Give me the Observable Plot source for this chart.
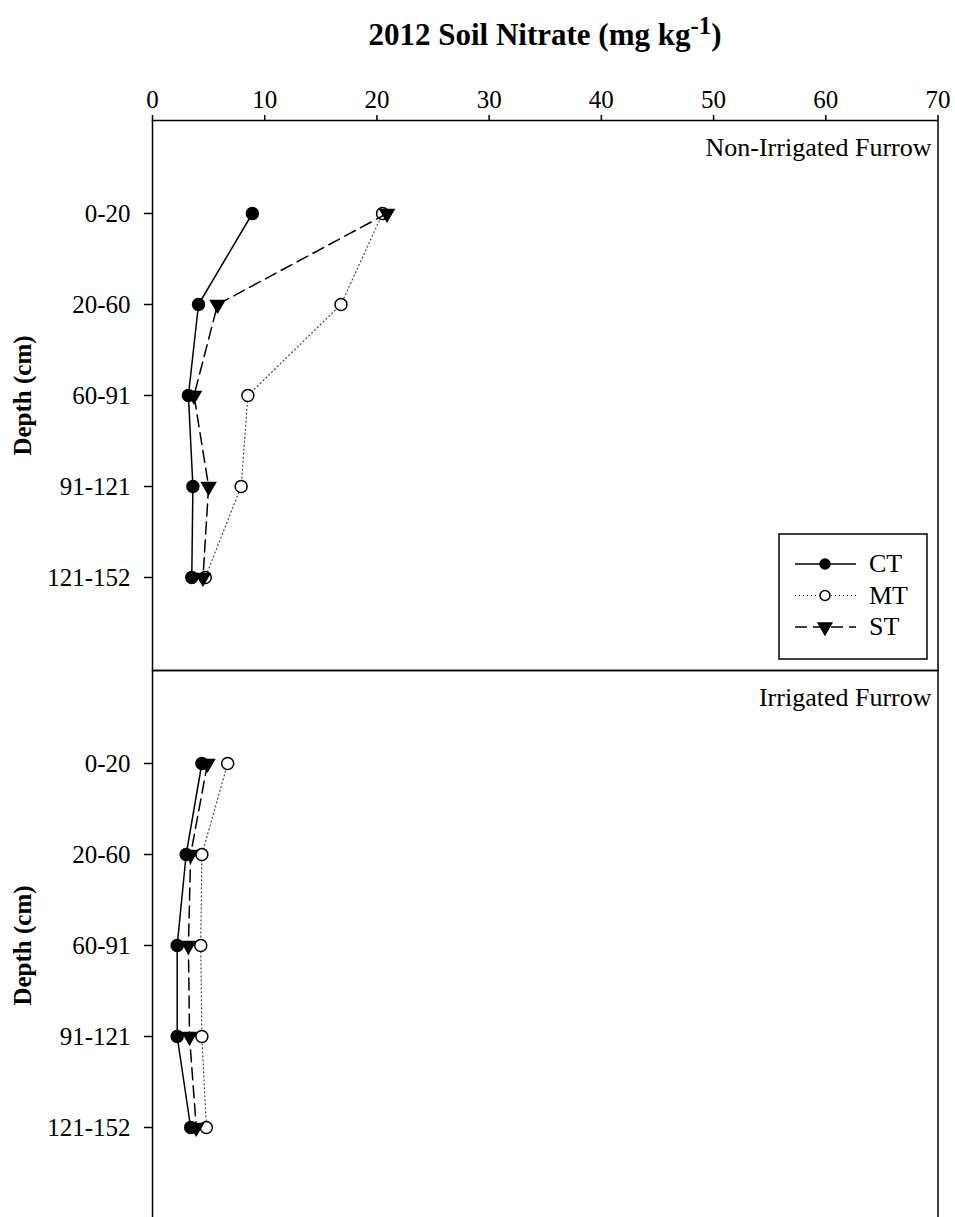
<!DOCTYPE html>
<html>
<head>
<meta charset="utf-8">
<script src="https://cdn.jsdelivr.net/npm/d3@7"></script>
<script src="https://cdn.jsdelivr.net/npm/@observablehq/plot@0.6"></script>
<style>
  html, body { margin: 0; padding: 0; background: white; overflow: hidden; }
  #title { position: relative; height: 60px; width: 955px; }
  #title span {
    position: absolute; left: 152px; width: 786px; top: 19px; text-align: center;
    font-family: "Liberation Serif", "Times New Roman", serif; font-weight: bold;
    font-size: 31px; line-height: 31px; white-space: nowrap;
  }
  #title sup { font-size: 0.8em; vertical-align: 0.45em; line-height: 0; }
</style>
</head>
<body>
<div id="title"><span>2012 Soil Nitrate (mg kg<sup>-1</sup>)</span></div>
<div id="chart"></div>
<script>
const depths = ["0-20", "20-60", "60-91", "91-121", "121-152"];
const panels = ["Non-Irrigated Furrow", "Irrigated Furrow"];
const series = ["CT", "MT", "ST"];
const xTicks = [0, 10, 20, 30, 40, 50, 60, 70];

// Non-irrigated furrow
const CT_nonIrr = [8.9, 4.1, 3.2, 3.6, 3.5];
const MT_nonIrr = [20.5, 16.8, 8.5, 7.9, 4.7];
const ST_nonIrr = [20.9, 5.8, 3.7, 5.0, 4.5];
// Irrigated furrow
const CT_irr = [4.4, 3.0, 2.2, 2.2, 3.4];
const MT_irr = [6.7, 4.4, 4.3, 4.4, 4.8];
const ST_irr = [4.9, 3.4, 3.2, 3.3, 3.9];

const valuesBy = {
  "Non-Irrigated Furrow": {CT: CT_nonIrr, MT: MT_nonIrr, ST: ST_nonIrr},
  "Irrigated Furrow": {CT: CT_irr, MT: MT_irr, ST: ST_irr}
};
const data = [];
for (const p of panels) for (const s of series) depths.forEach((d, i) => {
  data.push({panel: p, series: s, depth: d, value: valuesBy[p][s][i]});
});
const of = (s) => data.filter(d => d.series === s);

const styles = {
  CT: {line: {stroke: "black", strokeWidth: 1.5}, dot: {symbol: "circle", r: 6, fill: "black", stroke: "black"}},
  MT: {line: {stroke: "#444", strokeWidth: 1.2, strokeDasharray: "1,3"}, dot: {symbol: "circle", r: 6, fill: "white", stroke: "black", strokeWidth: 1.5}},
  ST: {line: {stroke: "black", strokeWidth: 1.5, strokeDasharray: "12,6"}, dot: {symbol: "triangle", r: 5.2, fill: "black", stroke: "black", rotate: 180}}
};

const marks = [];
for (const s of series) {
  marks.push(Plot.line(of(s), {x: "value", y: "depth", fy: "panel", ...styles[s].line}));
  marks.push(Plot.dot(of(s), {x: "value", y: "depth", fy: "panel", ...styles[s].dot}));
}

const plot = Plot.plot({
  width: 955,
  height: 1160,
  marginTop: 60,
  marginBottom: 0,
  marginLeft: 152,
  marginRight: 17.5,
  style: {fontFamily: '"Liberation Serif", "Times New Roman", serif', fontSize: "25px", color: "black", background: "white"},
  x: {domain: [0, 70]},
  y: {type: "point", domain: depths, padding: 1},
  fy: {domain: panels, padding: 0, axis: null},
  marks: [
    Plot.axisX({anchor: "top", ticks: xTicks, tickSize: 6, tickPadding: 7, label: null, strokeWidth: 1.5, fontSize: 25}),
    Plot.axisY({anchor: "left", tickSize: 8, tickPadding: 14, label: null, strokeWidth: 1.5, fontSize: 25}),
    Plot.text(panels, {fy: d => d, text: d => d, frameAnchor: "top-right", textAnchor: "end", lineAnchor: "middle", dx: -6.5, dy: 27, fontSize: 26}),
    Plot.text(panels, {fy: d => d, text: () => "Depth (cm)", frameAnchor: "left", rotate: -90, textAnchor: "middle", lineAnchor: "middle", dx: -130, fontSize: 25, fontWeight: "bold"}),
    ...marks,
    Plot.frame({stroke: "black", strokeWidth: 1.5})
  ]
});

document.getElementById("chart").appendChild(plot);

// Legend inside the top panel (lower-right corner)
const xr = plot.scale("x").range;
const right = xr[1];
const svg = d3.select(plot);
const fyScale = plot.scale("fy");
const topBottom = fyScale.apply(panels[0]) + fyScale.bandwidth;
const g = svg.append("g")
  .attr("font-family", '"Liberation Serif", "Times New Roman", serif')
  .attr("font-size", 26)
  .attr("text-anchor", "start");
const boxW = 148, boxH = 125;
const bx = right - 10.5 - boxW, by = topBottom - 11 - boxH;
g.append("rect").attr("x", bx).attr("y", by).attr("width", boxW).attr("height", boxH)
  .attr("fill", "white").attr("stroke", "black").attr("stroke-width", 1.5);
series.forEach((s, i) => {
  const cy = by + 30 + i * 31.5;
  const st = styles[s];
  g.append("line").attr("x1", bx + 16).attr("x2", bx + 77).attr("y1", cy).attr("y2", cy)
    .attr("stroke", st.line.stroke).attr("stroke-width", st.line.strokeWidth)
    .attr("stroke-dasharray", st.line.strokeDasharray || null);
  const sym = d3.symbol(st.dot.symbol === "triangle" ? d3.symbolTriangle : d3.symbolCircle, Math.PI * 5 * 5)();
  g.append("path").attr("d", sym)
    .attr("transform", `translate(${bx + 46},${cy})` + (st.dot.rotate ? ` rotate(${st.dot.rotate})` : ""))
    .attr("fill", st.dot.fill).attr("stroke", st.dot.stroke).attr("stroke-width", 1.5);
  g.append("text").attr("x", bx + 90).attr("y", cy).attr("dy", "0.32em")
    .attr("text-anchor", "start").attr("font-size", 26).text(s);
});
</script>
</body>
</html>
